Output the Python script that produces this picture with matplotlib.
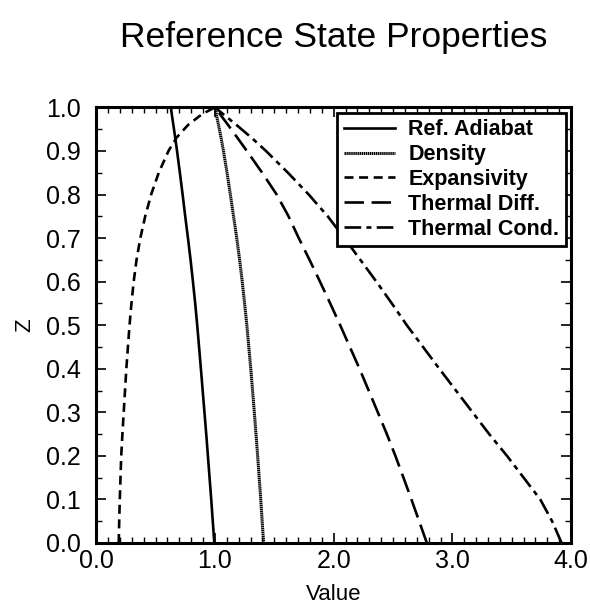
import numpy as np
import matplotlib
matplotlib.use('Agg')
import matplotlib.pyplot as plt
from matplotlib.ticker import MultipleLocator, FormatStrFormatter

plt.rcParams['font.family'] = ['Liberation Sans', 'DejaVu Sans']
plt.rcParams['lines.scale_dashes'] = False

# depth coordinate
z = [0.0, 0.05, 0.1, 0.15, 0.2, 0.25, 0.3, 0.4, 0.5, 0.55, 0.6, 0.65, 0.7,
     0.75, 0.8, 0.85, 0.9, 0.93, 0.96, 0.98, 0.99, 1.0]

# profiles
adiabat = [0.995, 0.982, 0.969, 0.955, 0.941, 0.927, 0.912, 0.882, 0.851, 0.834, 0.815,
           0.795, 0.773, 0.750, 0.728, 0.705, 0.681, 0.666, 0.650, 0.639, 0.634, 0.629]
density = [1.41, 1.398, 1.386, 1.373, 1.360, 1.346, 1.332, 1.302, 1.269, 1.250, 1.230,
           1.208, 1.184, 1.157, 1.130, 1.102, 1.072, 1.052, 1.030, 1.015, 1.008, 1.0]
expansivity = [0.19, 0.194, 0.199, 0.205, 0.211, 0.221, 0.232, 0.254, 0.281, 0.297, 0.316,
               0.340, 0.372, 0.413, 0.463, 0.527, 0.609, 0.675, 0.775, 0.87, 0.93, 1.0]
thermal_diff = [2.785, 2.72, 2.655, 2.588, 2.52, 2.448, 2.372, 2.218, 2.055, 1.971, 1.885,
                1.797, 1.706, 1.62, 1.52, 1.398, 1.269, 1.19, 1.11, 1.055, 1.028, 1.0]
thermal_cond = [3.92, 3.84, 3.74, 3.60, 3.46, 3.31, 3.17, 2.89, 2.616, 2.49, 2.36,
                2.225, 2.09, 1.95, 1.79, 1.615, 1.43, 1.31, 1.18, 1.09, 1.045, 1.0]

labels = ['Ref. Adiabat', 'Density', 'Expansivity', 'Thermal Diff.', 'Thermal Cond.']

fig = plt.figure(figsize=(5.9, 6.05), dpi=100)
ax = fig.add_axes([0.163, 0.1025, 0.805, 0.72])

ax.plot(adiabat, z, color='black', lw=1.9, linestyle='-', label=labels[0])
ax.plot(density, z, color='black', lw=2.2, linestyle=(0, (1.0, 0.4)), label=labels[1])
ax.plot(expansivity, z, color='black', lw=1.9, linestyle=(0, (6.5, 4.0)), label=labels[2])
ax.plot(thermal_diff, z, color='black', lw=1.9, linestyle=(0, (14, 5.5)), label=labels[3])
ax.plot(thermal_cond, z, color='black', lw=1.9, linestyle=(0, (12, 3.8, 3.6, 3.8)), label=labels[4])

ax.set_xlim(0, 4)
ax.set_ylim(0, 1)
ax.xaxis.set_major_locator(MultipleLocator(1.0))
ax.xaxis.set_minor_locator(MultipleLocator(0.1))
ax.yaxis.set_major_locator(MultipleLocator(0.1))
ax.yaxis.set_minor_locator(MultipleLocator(0.05))
ax.xaxis.set_major_formatter(FormatStrFormatter('%.1f'))
ax.yaxis.set_major_formatter(FormatStrFormatter('%.1f'))
ax.tick_params(which='both', direction='in', top=True, right=True, labelsize=18, color='black')
ax.tick_params(which='major', length=7, width=1.2)
ax.tick_params(which='minor', length=4, width=1.0)
ax.tick_params(axis='x', which='major', pad=4)
ax.tick_params(axis='y', which='major', pad=11)
for s in ax.spines.values():
    s.set_linewidth(2.2)

ax.set_xlabel('Value', fontsize=16, labelpad=8)
ax.set_ylabel('Z', fontsize=16, labelpad=8)
fig.suptitle('Reference State Properties', fontsize=25.5, x=0.566, y=0.966)

leg = ax.legend(loc='upper right', prop={'weight': 'bold', 'size': 15.5},
                frameon=True, fancybox=False, edgecolor='black', framealpha=1,
                handlelength=2.4, labelspacing=0.18, borderpad=0.3, borderaxespad=0.25,
                handletextpad=0.6)
leg.get_frame().set_linewidth(2.0)

plt.savefig('out.png', dpi=100)
